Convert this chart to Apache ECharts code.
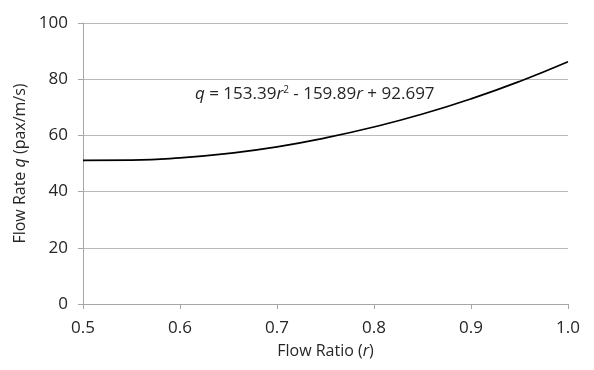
<!DOCTYPE html>
<html>
<head>
<meta charset="utf-8">
<script src="https://cdn.jsdelivr.net/npm/echarts@6/dist/echarts.min.js"></script>
<style>
  html, body { margin: 0; padding: 0; background: #fff; }
  #chart { width: 594px; height: 370px; }
</style>
</head>
<body>
<div id="chart"></div>
<script>
// flow ratio r and flow rate q
const ratios = [0.5, 0.55, 0.6, 0.65, 0.7, 0.75, 0.8, 0.85, 0.9, 0.95, 1.0];
const flowRates = [51.1, 51.2, 52.0, 53.6, 55.9, 59.1, 63.0, 67.6, 73.0, 79.2, 86.2];
const yTicks = [0, 20, 40, 60, 80, 100];

const chart = echarts.init(document.getElementById('chart'));
const font = '"Open Sans", "Noto Sans", sans-serif';
const textColor = '#262626';

const option = {
  animation: false,
  textStyle: { fontFamily: font },
  grid: { left: 83, right: 26, top: 23, bottom: 66, containLabel: false },
  xAxis: {
    type: 'value',
    min: 0.5,
    max: 1.0,
    interval: 0.1,
    name: 'Flow Ratio ({i|r})',
    nameLocation: 'middle',
    nameGap: 39,
    nameTextStyle: {
      fontSize: 16, color: textColor, fontFamily: font,
      rich: { i: { fontStyle: 'italic', fontSize: 16, color: textColor, fontFamily: font } }
    },
    axisLine: { lineStyle: { color: '#a6a6a6', width: 1 } },
    axisTick: { show: true, length: 5, lineStyle: { color: '#a6a6a6' } },
    axisLabel: {
      fontSize: 17, color: textColor, margin: 16,
      formatter: v => v.toFixed(1)
    },
    splitLine: { show: false }
  },
  yAxis: {
    type: 'value',
    min: yTicks[0],
    max: yTicks[yTicks.length - 1],
    interval: 20,
    name: 'Flow Rate {i|q} (pax/m/s)',
    nameLocation: 'middle',
    nameGap: 55,
    nameRotate: 90,
    nameTextStyle: {
      fontSize: 16, color: textColor, fontFamily: font,
      rich: { i: { fontStyle: 'italic', fontSize: 16, color: textColor, fontFamily: font } }
    },
    axisLine: { show: true, lineStyle: { color: '#a6a6a6', width: 1 } },
    axisTick: { show: true, length: 5, lineStyle: { color: '#a6a6a6' } },
    axisLabel: { fontSize: 17, color: textColor, margin: 15 },
    splitLine: { show: true, lineStyle: { color: '#bababa', width: 1 } }
  },
  series: [{
    type: 'line',
    data: ratios.map((r, i) => [r, flowRates[i]]),
    smooth: true,
    showSymbol: false,
    lineStyle: { color: '#000', width: 1.7 }
  }],
  graphic: [{
    type: 'text',
    left: 195,
    top: 85,
    style: {
      text: '{i|q} = 153.39{i|r}{s|2} - 159.89{i|r} + 92.697',
      fontSize: 17,
      fill: textColor,
      fontFamily: font,
      rich: {
        i: { fontStyle: 'italic', fontSize: 17, fill: textColor, fontFamily: font },
        s: { fontSize: 10, fill: textColor, fontFamily: font, verticalAlign: 'top', padding: [0, 0, 8, 0] }
      }
    }
  }]
};

chart.setOption(option);
</script>
</body>
</html>
